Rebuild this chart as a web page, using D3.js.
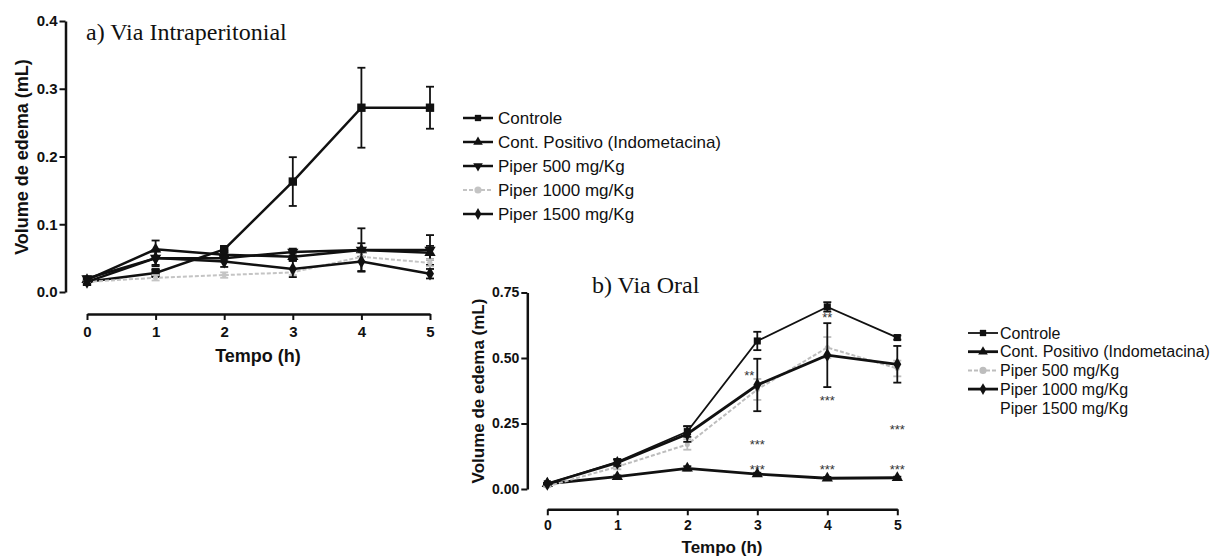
<!DOCTYPE html>
<html>
<head>
<meta charset="utf-8">
<script src="https://cdn.jsdelivr.net/npm/d3@7"></script>
<style>
  body { margin: 0; background: #fff; }
  svg { display: block; }
</style>
</head>
<body>
<div id="wrapper"></div>
<script>
// valores (média e erro padrão)
const hours = [0, 1, 2, 3, 4, 5];
const seriesNames = ["Controle", "Cont. Positivo (Indometacina)", "Piper 500 mg/Kg", "Piper 1000 mg/Kg", "Piper 1500 mg/Kg"];

// a) Via Intraperitonial
const controleA = [0.015, 0.028, 0.063, 0.163, 0.272, 0.272];
const controleAErr = [0.004, 0.006, 0.005, 0.036, 0.059, 0.031];
const positivoA = [0.018, 0.063, 0.055, 0.052, 0.062, 0.058];
const positivoAErr = [0.003, 0.013, 0.006, 0.006, 0.010, 0.010];
const p500A = [0.020, 0.050, 0.050, 0.059, 0.062, 0.062];
const p500AErr = [0.003, 0.010, 0.005, 0.005, 0.032, 0.022];
const p1000A = [0.015, 0.021, 0.025, 0.029, 0.052, 0.043];
const p1000AErr = [0.002, 0.004, 0.004, 0.004, 0.006, 0.005];
const p1500A = [0.015, 0.050, 0.045, 0.034, 0.045, 0.027];
const p1500AErr = [0.003, 0.012, 0.008, 0.012, 0.014, 0.007];
const ticksA = [0.0, 0.1, 0.2, 0.3, 0.4];

// b) Via Oral
const controleB = [0.020, 0.104, 0.219, 0.565, 0.695, 0.578];
const controleBErr = [0.003, 0.010, 0.020, 0.035, 0.018, 0.008];
const positivoB = [0.020, 0.047, 0.079, 0.057, 0.041, 0.043];
const positivoBErr = [0.003, 0.005, 0.008, 0.005, 0.005, 0.004];
const p500B = [0.010, 0.085, 0.170, 0.380, 0.540, 0.460];
const p500BErr = [0.002, 0.010, 0.020, 0.040, 0.040, 0.030];
const p1000B = [0.020, 0.100, 0.210, 0.397, 0.511, 0.476];
const p1000BErr = [0.003, 0.012, 0.030, 0.100, 0.122, 0.070];
const ticksB = [0.00, 0.25, 0.50, 0.75];
const signifB = [
    {h: 3, v: 0.443, t: "**", dx: -8},
    {h: 3, v: 0.180, t: "***", dx: 0},
    {h: 3, v: 0.085, t: "***", dx: 0},
    {h: 4, v: 0.664, t: "**", dx: 0},
    {h: 4, v: 0.347, t: "***", dx: 0},
    {h: 4, v: 0.085, t: "***", dx: 0},
    {h: 5, v: 0.238, t: "***", dx: 0},
    {h: 5, v: 0.085, t: "***", dx: 0}
];

const W = 1217, H = 558;
const svg = d3.select("#wrapper").append("svg")
    .attr("width", W)
    .attr("height", H);

const labelFont = "'Liberation Sans', Arial, sans-serif";
const titleFont = "'Liberation Serif', 'Times New Roman', serif";

function symbolFor(name) {
    if (name == "square") return d3.symbolSquare;
    if (name == "tri") return d3.symbolTriangle;
    if (name == "diamond") return d3.symbolDiamond;
    return d3.symbolCircle;
}

function drawPanel(cfg) {
    const x = d3.scaleLinear().domain([0, 5]).range(cfg.xRange);
    const y = d3.scaleLinear().domain(cfg.yDomain).range(cfg.yRange);
    const g = svg.append("g");

    // eixo y
    const yAxis = g.append("g")
        .attr("transform", `translate(${cfg.yAxisX},0)`)
        .call(d3.axisLeft(y).tickValues(cfg.yTicks).tickFormat(cfg.yFormat).tickSize(6).tickSizeOuter(0));
    // eixo x separado
    const xAxis = g.append("g")
        .attr("transform", `translate(0,${cfg.xAxisY})`)
        .call(d3.axisBottom(x).tickValues(hours).tickFormat(d3.format("d")).tickSize(6).tickSizeOuter(0));
    [yAxis, xAxis].forEach(a => {
        a.select(".domain").attr("stroke", "#111").attr("stroke-width", 2.5);
        a.selectAll(".tick line").attr("stroke", "#111").attr("stroke-width", 2);
        a.selectAll(".tick text")
            .style("font-family", labelFont)
            .style("font-weight", "bold")
            .style("font-size", cfg.tickSize + "px")
            .attr("fill", "#111");
    });
    xAxis.selectAll(".tick text").attr("y", cfg.xTickY);
    yAxis.selectAll(".tick text").attr("x", -8);

    g.append("text")
        .attr("x", cfg.titleX).attr("y", cfg.titleY)
        .style("font-family", titleFont)
        .style("font-size", cfg.titleSize + "px")
        .attr("fill", "#111")
        .text(cfg.title);

    g.append("text")
        .attr("transform", `translate(${cfg.yLabelX},${cfg.yLabelY})rotate(-90)`)
        .attr("text-anchor", "middle")
        .style("font-family", labelFont)
        .style("font-weight", "bold")
        .style("font-size", cfg.axisLabelSize + "px")
        .attr("fill", "#111")
        .text("Volume de edema (mL)");

    g.append("text")
        .attr("x", cfg.xLabelX).attr("y", cfg.xLabelY)
        .attr("text-anchor", "middle")
        .style("font-family", labelFont)
        .style("font-weight", "bold")
        .style("font-size", cfg.axisLabelSize + "px")
        .attr("fill", "#111")
        .text("Tempo (h)");

    const line = d3.line()
        .x((d, i) => x(hours[i]))
        .y(d => y(d));

    cfg.series.forEach(s => {
        if (!s.values) return;
        const sg = g.append("g");
        s.values.forEach((v, i) => {
            const e = s.err[i];
            const cx = x(hours[i]);
            sg.append("line")
                .attr("x1", cx).attr("x2", cx)
                .attr("y1", y(v + e)).attr("y2", y(v - e))
                .attr("stroke", s.color).attr("stroke-width", 1.8);
            [v + e, v - e].forEach(c => {
                sg.append("line")
                    .attr("x1", cx - 4).attr("x2", cx + 4)
                    .attr("y1", y(c)).attr("y2", y(c))
                    .attr("stroke", s.color).attr("stroke-width", 1.8);
            });
        });
        sg.append("path")
            .attr("d", line(s.values))
            .attr("fill", "none")
            .attr("stroke", s.color)
            .attr("stroke-width", s.width)
            .attr("stroke-dasharray", s.dash || null);
        sg.selectAll("path.mk")
            .data(s.values)
            .join("path")
            .attr("class", "mk")
            .attr("transform", (d, i) => `translate(${x(hours[i])},${y(d)})${s.flip ? "rotate(180)" : ""}`)
            .attr("d", d3.symbol().type(symbolFor(s.marker)).size(s.msize || 55))
            .attr("fill", s.color);
    });

    // legenda
    const lg = g.append("g");
    cfg.series.forEach((s, i) => {
        const ly = cfg.legendY + i * cfg.legendStep;
        if (s.values) {
            lg.append("line")
                .attr("x1", cfg.legendX).attr("x2", cfg.legendX + 30)
                .attr("y1", ly).attr("y2", ly)
                .attr("stroke", s.color)
                .attr("stroke-width", s.width)
                .attr("stroke-dasharray", s.dash || null);
            lg.append("path")
                .attr("transform", `translate(${cfg.legendX + 15},${ly})${s.flip ? "rotate(180)" : ""}`)
                .attr("d", d3.symbol().type(symbolFor(s.marker)).size(40))
                .attr("fill", s.color);
        }
        lg.append("text")
            .attr("x", cfg.legendX + cfg.legendGap).attr("y", ly + cfg.legendSize * 0.36)
            .style("font-family", labelFont)
            .style("font-size", cfg.legendSize + "px")
            .attr("fill", "#111")
            .text(seriesNames[i]);
    });

    return {x, y, g};
}

drawPanel({
    title: "a) Via Intraperitonial", titleX: 86, titleY: 40, titleSize: 24,
    xRange: [87, 430], yDomain: [0, 0.4], yRange: [292, 21],
    yAxisX: 65.5, xAxisY: 314, yTicks: ticksA, yFormat: d3.format(".1f"),
    tickSize: 15, xTickY: 12, axisLabelSize: 18,
    yLabelX: 28, yLabelY: 157, xLabelX: 258, xLabelY: 362,
    legendX: 463, legendY: 118, legendStep: 24, legendSize: 17, legendGap: 35,
    series: [
        {values: controleA, err: controleAErr, color: "#111", width: 2.5, marker: "square", msize: 70},
        {values: positivoA, err: positivoAErr, color: "#111", width: 2.5, marker: "tri"},
        {values: p500A, err: p500AErr, color: "#111", width: 2.5, marker: "tri", flip: true},
        {values: p1000A, err: p1000AErr, color: "#c4c4c4", width: 2, marker: "circle", dash: "4,2", msize: 20},
        {values: p1500A, err: p1500AErr, color: "#111", width: 2.5, marker: "diamond"}
    ]
});

const pb = drawPanel({
    title: "b) Via Oral", titleX: 592, titleY: 293, titleSize: 24,
    xRange: [547.3, 897.3], yDomain: [0, 0.75], yRange: [489, 292.5],
    yAxisX: 527.3, xAxisY: 509.3, yTicks: ticksB, yFormat: d3.format(".2f"),
    tickSize: 14, xTickY: 11, axisLabelSize: 17,
    yLabelX: 484, yLabelY: 391, xLabelX: 722, xLabelY: 553,
    legendX: 968, legendY: 333, legendStep: 18.7, legendSize: 16, legendGap: 32,
    series: [
        {values: controleB, err: controleBErr, color: "#111", width: 1.8, marker: "square", msize: 50},
        {values: positivoB, err: positivoBErr, color: "#111", width: 2.8, marker: "tri"},
        {values: p500B, err: p500BErr, color: "#bdbdbd", width: 2, marker: "circle", dash: "4,2", msize: 20},
        {values: p1000B, err: p1000BErr, color: "#111", width: 2.8, marker: "diamond"},
        {values: null}
    ]
});

pb.g.selectAll("text.sig")
    .data(signifB)
    .join("text")
    .attr("class", "sig")
    .attr("x", d => pb.x(d.h) + d.dx)
    .attr("y", d => pb.y(d.v) + 7)
    .attr("text-anchor", "middle")
    .style("font-family", labelFont)
    .style("font-size", "13px")
    .attr("fill", "#333")
    .text(d => d.t);
</script>
</body>
</html>
